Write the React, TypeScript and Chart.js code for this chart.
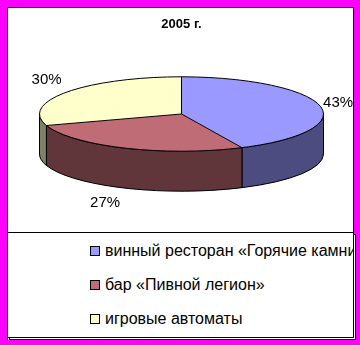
import React, { useEffect, useRef } from 'react';
import { Chart, registerables } from 'chart.js';

Chart.register(...registerables);

const chartTitle = '2005 г.';
const categories = ['винный ресторан «Горячие камни»', 'бар «Пивной легион»', 'игровые автоматы'];
const shares = [43, 27, 30];
const topColors = ['#9999FF', '#C06C76', '#FFFFCC'];
const sideColors = ['#4C4C80', '#60363B', '#808066'];

const FONT = '"Liberation Sans", Arial, sans-serif';
const TILT = 0.262;
const DEPTH = 40;

const pie3d = {
  id: 'pie3d',
  beforeDatasetsDraw(chart: any) {
    const ctx = chart.ctx as CanvasRenderingContext2D;
    const arcs = chart.getDatasetMeta(0).data as any[];
    ctx.save();
    if (!arcs.length) return;
    const cx = arcs[0].x;
    const cy = arcs[0].y;
    const r = arcs[0].outerRadius;
    const ry = r * TILT;
    // side walls (visible front half: angles 0..PI)
    arcs.forEach((arc, i) => {
      const a = Math.max(arc.startAngle, 0);
      const b = Math.min(arc.endAngle, Math.PI);
      if (b <= a) return;
      ctx.beginPath();
      ctx.ellipse(cx, cy, r, ry, 0, a, b, false);
      ctx.lineTo(cx + r * Math.cos(b), cy + ry * Math.sin(b) + DEPTH);
      ctx.ellipse(cx, cy + DEPTH, r, ry, 0, b, a, true);
      ctx.closePath();
      ctx.fillStyle = sideColors[i];
      ctx.fill();
      ctx.lineWidth = 1;
      ctx.strokeStyle = '#000';
      ctx.stroke();
    });
    ctx.translate(cx, cy);
    ctx.scale(1, TILT);
    ctx.translate(-cx, -cy);
  },
  afterDatasetsDraw(chart: any) {
    const ctx = chart.ctx as CanvasRenderingContext2D;
    ctx.restore();
    const arcs = chart.getDatasetMeta(0).data as any[];
    if (!arcs.length) return;
    const cx = arcs[0].x;
    const cy = arcs[0].y;
    const r = arcs[0].outerRadius;
    const ry = r * TILT;
    ctx.save();
    ctx.lineWidth = 1;
    ctx.strokeStyle = '#000';
    ctx.beginPath();
    ctx.ellipse(cx, cy, r, ry, 0, 0, Math.PI * 2);
    ctx.stroke();
    arcs.forEach((arc) => {
      const s = arc.startAngle;
      ctx.beginPath();
      ctx.moveTo(cx, cy);
      ctx.lineTo(cx + r * Math.cos(s), cy + ry * Math.sin(s));
      ctx.stroke();
    });
    // percentage labels
    const data = chart.data.datasets[0].data as number[];
    const total = data.reduce((p, v) => p + v, 0);
    ctx.font = '15px ' + FONT;
    ctx.fillStyle = '#000';
    arcs.forEach((arc, i) => {
      const mid = (arc.startAngle + arc.endAngle) / 2;
      const c = Math.cos(mid);
      const s = Math.sin(mid);
      const px = cx + r * c;
      const py = cy + ry * s + (s > 0 ? DEPTH : 0);
      ctx.textAlign = c >= 0 ? 'left' : 'right';
      let y = py;
      if (Math.abs(s) < 0.3) {
        ctx.textBaseline = 'middle';
        y = py - 3;
      } else if (s > 0) {
        ctx.textBaseline = 'top';
        y = py + 7;
      } else {
        ctx.textBaseline = 'bottom';
        y = py - 5;
      }
      const x = px + (c >= 0 ? 3 : -5);
      ctx.fillText(Math.round((data[i] / total) * 100) + '%', x, y);
    });
    ctx.restore();
  },
};

export default function App() {
  const ref = useRef<HTMLCanvasElement | null>(null);

  useEffect(() => {
    document.body.style.margin = '0';
    if (!ref.current) return;
    const chart = new Chart(ref.current, {
      type: 'pie',
      data: {
        labels: categories,
        datasets: [
          {
            data: shares,
            backgroundColor: topColors,
            borderWidth: 0,
            radius: 142,
            clip: false,
          } as any,
        ],
      },
      options: {
        animation: false,
        responsive: false,
        maintainAspectRatio: false,
        layout: { padding: { left: 2, bottom: 36.6 } },
        plugins: {
          legend: { display: false },
          tooltip: { enabled: false },
          title: {
            display: true,
            text: chartTitle,
            color: '#000',
            font: { family: FONT, size: 13, weight: 'bold' },
            padding: { top: 9, bottom: 0 },
          },
        },
      } as any,
      plugins: [pie3d],
    });
    return () => chart.destroy();
  }, []);

  return (
    <div style={{ position: 'relative', width: 360, height: 345, background: '#FF00FF', overflow: 'hidden', fontFamily: FONT }}>
      <div
        style={{
          position: 'absolute', left: 7, top: 7, width: 347, height: 333, boxSizing: 'border-box',
          background: '#fff', borderLeft: '1px solid #000', borderTop: '1px solid #000', borderRight: '1px solid #000',
        }}
      />
      <canvas ref={ref} width={345} height={224} style={{ position: 'absolute', left: 8, top: 8, width: 345, height: 224 }} />
      <div
        style={{
          position: 'absolute', left: 9, top: 234, width: 347, height: 106, boxSizing: 'border-box',
          background: '#fff', border: '1px solid #000',
        }}
      />
      <div
        style={{
          position: 'absolute', left: 7, top: 232, width: 347, height: 106, boxSizing: 'border-box',
          background: '#fff', border: '1px solid #000', overflow: 'hidden',
        }}
      >
        {categories.map((name, i) => (
          <div key={name} style={{ position: 'absolute', left: 82, top: 13 + i * 34, height: 10, whiteSpace: 'nowrap' }}>
            <div
              style={{
                position: 'absolute', left: 0, top: 0, width: 10, height: 10, boxSizing: 'border-box',
                background: topColors[i], border: '1px solid #000',
              }}
            />
            <div style={{ position: 'absolute', left: 15, top: -5, fontSize: 16, lineHeight: '20px', color: '#000' }}>{name}</div>
          </div>
        ))}
      </div>
    </div>
  );
}
